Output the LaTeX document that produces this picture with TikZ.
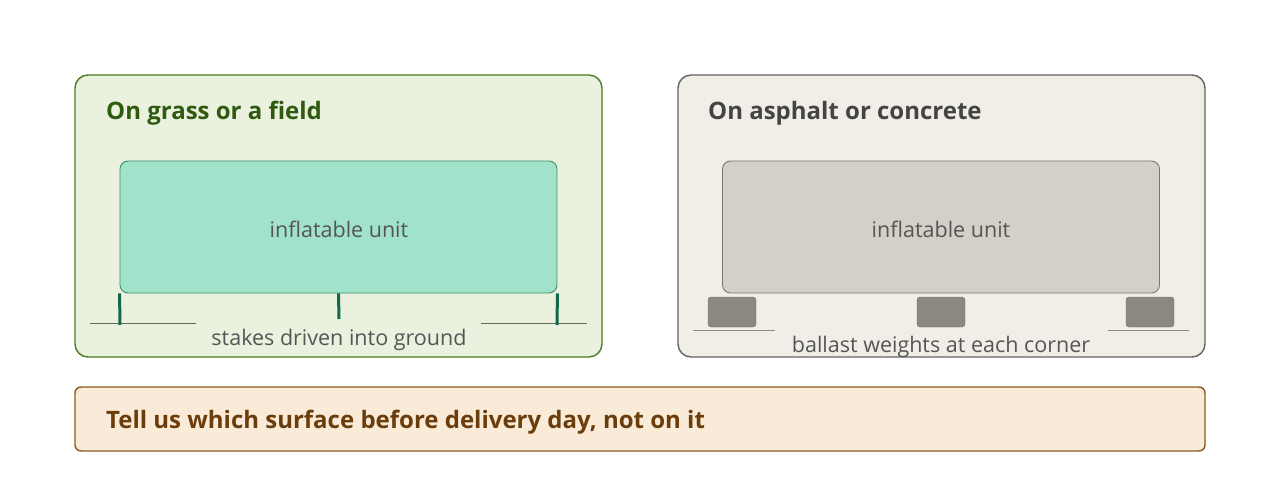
\documentclass[tikz,border=0pt]{standalone}
\usepackage{fontspec}
\setmainfont{Open Sans}
\usetikzlibrary{positioning}
\definecolor{grassfill}    {HTML}{EAF1DE}
\definecolor{grassline}    {HTML}{4F7D22}
\definecolor{grasstext}    {HTML}{2F5A0F}
\definecolor{unitgreen}    {HTML}{A0E2CA}
\definecolor{unitgreenline}{HTML}{3E8D6C}
\definecolor{stakegreen}   {HTML}{12694A}
\definecolor{groundgreen}  {HTML}{5E7050}
\definecolor{pavefill}     {HTML}{F1EEE7}
\definecolor{paveline}     {HTML}{666462}
\definecolor{pavetext}     {HTML}{444444}
\definecolor{unitgrey}     {HTML}{D4D0C8}
\definecolor{unitgreyline} {HTML}{7A7770}
\definecolor{ballastgrey}  {HTML}{8A8880}
\definecolor{groundgrey}   {HTML}{8C8C8A}
\definecolor{notefill}     {HTML}{FAEBD9}
\definecolor{noteline}     {HTML}{8B5A1F}
\definecolor{notetext}     {HTML}{6B3D0B}
\definecolor{labelgrey}    {HTML}{555555}

\begin{document}
\begin{tikzpicture}[x=1pt,y=-1pt,
  panel/.style={rounded corners=13pt,line width=1.4pt,inner sep=0pt,minimum width=527pt,minimum height=282pt},
  unitbox/.style={rounded corners=8pt,line width=0.9pt,inner sep=0pt,minimum width=437pt,minimum height=132pt},
  heading/.style={anchor=base west,inner sep=0pt,font=\fontsize{24}{28}\selectfont\bfseries},
  groundlabel/.style={anchor=base,inner sep=0pt,font=\fontsize{21.5}{25}\selectfont,text=labelgrey},
  stakeline/.style={stakegreen,line width=3pt},
  groundline/.style={line width=1pt},
  weight/.style={fill=ballastgrey,draw=ballastgrey!85!black,line width=0.4pt,rounded corners=3pt,inner sep=0pt,
                 minimum width=48pt,minimum height=30pt}]
\useasboundingbox[fill=white] (0,0) rectangle (1280,489);

\node[panel,fill=grassfill,draw=grassline] (grass) at (338.5,216) {};
\node[heading,text=grasstext] (grasstitle) at (106,120) {On grass or a field};
\node[unitbox,fill=unitgreen,draw=unitgreenline] (gunit) at (338.5,227) {};
\node[groundlabel] (gunitlabel) at (339,237) {inflatable unit};
\coordinate (gl1) at (90,323);
\coordinate (gl2) at (196,323);
\coordinate (gr1) at (481,323);
\coordinate (gr2) at (587,323);
\draw[groundline,groundgreen] (gl1) -- (gl2);
\draw[groundline,groundgreen] (gr1) -- (gr2);
\coordinate (s1) at (120,325);
\coordinate (s2) at (339,319);
\coordinate (s3) at (557,325);
\draw[stakeline] (gunit.south west) -- (s1);
\draw[stakeline] (gunit.south) -- (s2);
\draw[stakeline] (gunit.south east) -- (s3);
\node[groundlabel] (stakes) at (339,345) {stakes driven into ground};

\node[panel,fill=pavefill,draw=paveline] (pave) at (941.5,216) {};
\node[heading,text=pavetext] (pavetitle) at (708,120) {On asphalt or concrete};
\node[unitbox,fill=unitgrey,draw=unitgreyline] (punit) at (941,227) {};
\node[groundlabel] (punitlabel) at (941,237) {inflatable unit};
\node[weight] (w1) at (732,312) {};
\node[weight] (w2) at (941,312) {};
\node[weight] (w3) at (1150,312) {};
\coordinate (pl1) at (693,330);
\coordinate (pl2) at (775,330);
\coordinate (pr1) at (1108,330);
\coordinate (pr2) at (1189,330);
\draw[groundline,groundgrey] (pl1) -- (pl2);
\draw[groundline,groundgrey] (pr1) -- (pr2);
\node[groundlabel] (ballast) at (941,352) {ballast weights at each corner};

\node[rounded corners=6pt,line width=1.4pt,inner sep=0pt,minimum width=1130pt,minimum height=64pt,
      fill=notefill,draw=noteline] (note) at (640,419) {};
\node[heading,text=notetext] (notetext) at (106,428) {Tell us which surface before delivery day, not on it};
\end{tikzpicture}
\end{document}
